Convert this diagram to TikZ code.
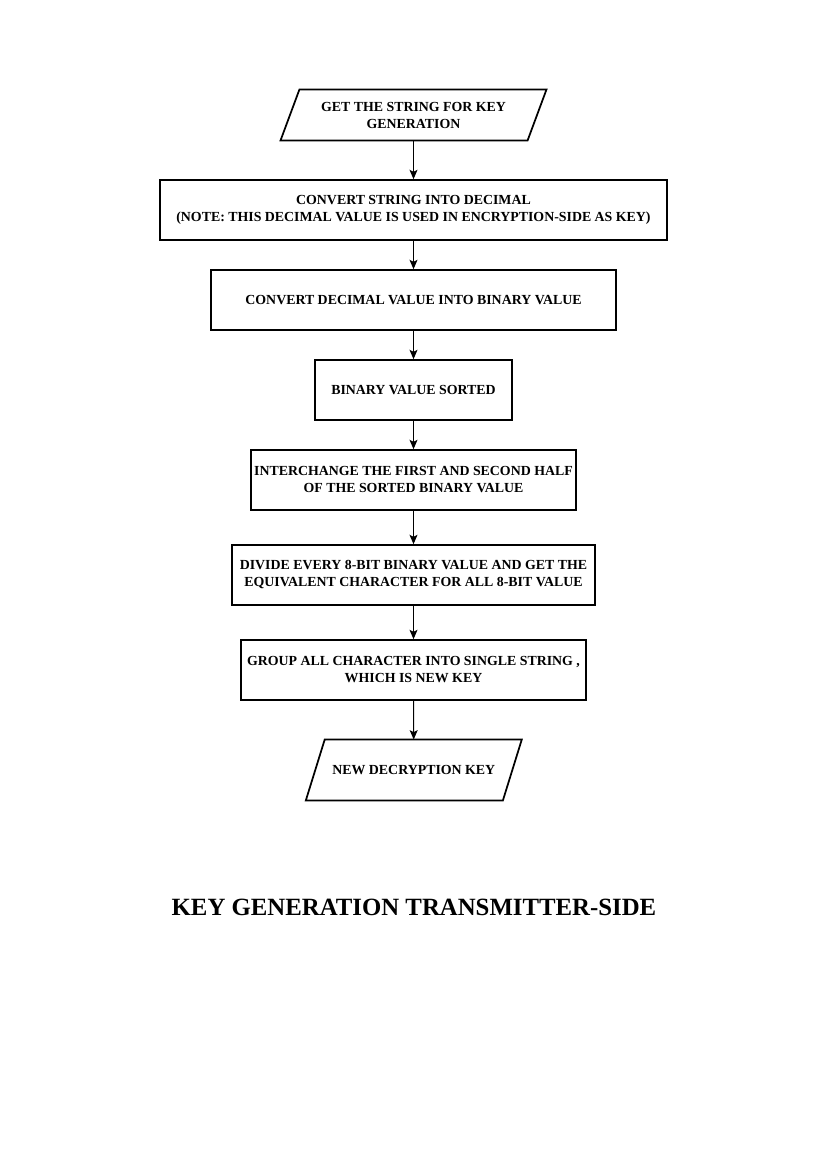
\documentclass[tikz,border=0pt]{standalone}
\usepackage{fontspec}
\setmainfont{Liberation Serif}
\usetikzlibrary{arrows.meta}

\begin{document}
\begin{tikzpicture}[x=0.75pt, y=-0.75pt, ->, >={Stealth[length=7pt,width=6pt,inset=1.5pt]}, line width=0.8pt,
    every node/.style={font=\bfseries\fontsize{10.4}{12.75}\selectfont, align=center, inner sep=0pt},
    process/.style={rectangle, draw, line width=1.3pt, minimum height=45pt},
    inout/.style={rectangle, minimum height=45pt},
    frame/.style={-, line width=1.3pt, line join=miter}]
    % page
    \useasboundingbox (0,0) rectangle (827,1169);

    % nodes
    \node[inout, minimum width=184.5pt, minimum height=37.5pt] (get) at (413.5,115) {GET THE STRING FOR KEY\\GENERATION};
    \node[process, minimum width=380.25pt] (dec) at (413.5,210) {CONVERT STRING INTO DECIMAL\\(NOTE: THIS DECIMAL VALUE IS USED IN ENCRYPTION-SIDE AS KEY)};
    \node[process, minimum width=303.75pt] (bin) at (413.5,300) {CONVERT DECIMAL VALUE INTO BINARY VALUE};
    \node[process, minimum width=147.75pt] (sort) at (413.5,390) {BINARY VALUE SORTED};
    \node[process, minimum width=243.75pt] (swap) at (413.5,480) {INTERCHANGE THE FIRST AND SECOND HALF\\OF THE SORTED BINARY VALUE};
    \node[process, minimum width=272.25pt] (div) at (413.5,575) {DIVIDE EVERY 8-BIT BINARY VALUE AND GET THE\\EQUIVALENT CHARACTER FOR ALL 8-BIT VALUE};
    \node[process, minimum width=258.75pt] (grp) at (413.5,670) {GROUP ALL CHARACTER INTO SINGLE STRING ,\\WHICH IS NEW KEY};
    \node[inout, minimum width=147pt] (key) at (413.8,770) {NEW DECRYPTION KEY};

    % slanted frames of the input / output nodes
    \draw[frame] ([xshift=7.1pt]get.north west) -- ([xshift=7.1pt]get.north east) -- ([xshift=-7.1pt]get.south east) -- ([xshift=-7.1pt]get.south west) -- cycle;
    \draw[frame] ([xshift=7.1pt]key.north west) -- ([xshift=7.1pt]key.north east) -- ([xshift=-7.1pt]key.south east) -- ([xshift=-7.1pt]key.south west) -- cycle;

    % title
    \node[font=\bfseries\fontsize{18.6}{22}\selectfont] (title) at (414,907) {KEY GENERATION TRANSMITTER-SIDE};

    % connections
    \draw (get) -- (dec);
    \draw (dec) -- (bin);
    \draw (bin) -- (sort);
    \draw (sort) -- (swap);
    \draw (swap) -- (div);
    \draw (div) -- (grp);
    \draw (grp) -- (key);
\end{tikzpicture}
\end{document}
